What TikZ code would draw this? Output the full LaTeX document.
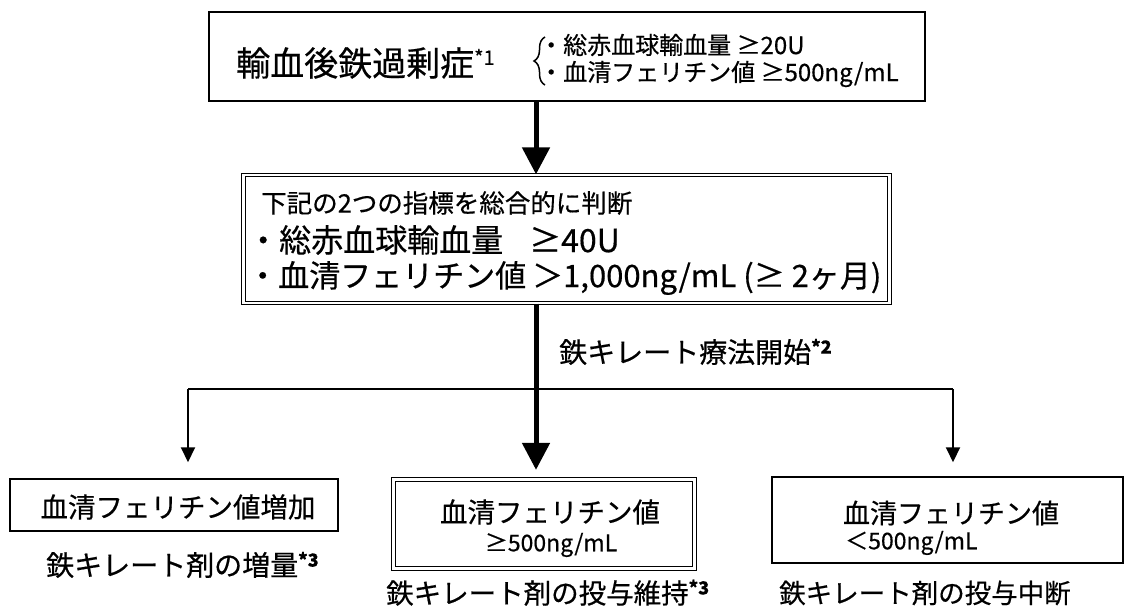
\documentclass[tikz,border=0pt]{standalone}
\usepackage{fontspec}
\setmainfont{Noto Sans CJK JP}[FakeBold=0.5]
\usetikzlibrary{arrows.meta,decorations.pathreplacing}
\newcommand\fsz[1]{\fontsize{#1}{#1}\selectfont}
\newcommand\supx[3]{\smash{\raisebox{#1}{\fsz{#2}#3}}}
\begin{document}
\begin{tikzpicture}[x=1pt,y=-1pt,
  box/.style={draw, line width=1.5pt, inner sep=0pt},
  dbox/.style={draw, double, line width=1.3pt, double distance=2.2pt, inner sep=0pt},
  txt/.style={inner sep=0pt, anchor=west},
  ctxt/.style={inner sep=0pt, anchor=center},
  thk/.style={line width=5pt, -{Triangle[width=27pt,length=27pt]}},
  thn/.style={line width=2pt},
  thna/.style={line width=2pt, -{Triangle[width=14pt,length=15pt]}}]
\fill[white] (0,0) rectangle (1124,608);
\useasboundingbox (0,0) rectangle (1124,608);

% boxes
\node[box, minimum width=716pt, minimum height=89pt] (top) at (567,56.5) {};
\node[dbox, minimum width=646pt, minimum height=128pt] (mid) at (566.5,239) {};
\node[box, minimum width=328pt, minimum height=52pt] (bl) at (174,505) {};
\node[dbox, minimum width=301pt, minimum height=89pt] (bm) at (544,524) {};
\node[box, minimum width=351pt, minimum height=86pt] (br) at (947.5,520) {};

% top box text
\node[txt] (title) at (236,63) {\fsz{34}輸血後鉄過剰症\supx{11pt}{20}{*1}};
\draw[line width=1.5pt, decorate, decoration={brace, amplitude=11pt}] (545,85) -- (545,37);
\node[txt] (ta) at (539,45) {\fsz{24}・総赤血球輸血量 ≥20U};
\node[txt] (tb) at (539,74) {\fsz{24}・血清フェリチン値 ≥500ng/mL};

% middle box text
\node[txt] (m1) at (261,203) {\fsz{25.5}下記の2つの指標を総合的に判断};
\node[txt] (m2) at (247,240) {\fsz{32}・総赤血球輸血量\hspace{26pt}≥40U};
\node[txt] (m3) at (247,278) {\fsz{31}・血清フェリチン値\hspace{6pt}＞1,000ng/mL (≥ 2ヶ月)};

% label
\node[txt] (lab) at (559,352) {\fsz{28}鉄キレート療法開始\supx{9pt}{18}{\bfseries *2}};

% bottom boxes text
\node[ctxt] (bl1) at (178,507) {\fsz{27.5}血清フェリチン値増加};
\node[ctxt] (bm1) at (550,512) {\fsz{27.5}血清フェリチン値};
\node[ctxt] (bm2) at (551,545) {\fsz{23}≥500ng/mL};
\node[ctxt] (br1) at (951,513) {\fsz{27}血清フェリチン値};
\node[txt] (br2) at (845,543) {\fsz{23}＜500ng/mL};

% bottom labels
\node[txt] (l1) at (46,565) {\fsz{28}鉄キレート剤の増量\supx{9pt}{18}{\bfseries *3}};
\node[txt] (l2) at (386,593) {\fsz{27.5}鉄キレート剤の投与維持\supx{9pt}{18}{\bfseries *3}};
\node[txt] (l3) at (779,593) {\fsz{26.5}鉄キレート剤の投与中断};

% connectors
\coordinate (j) at (536,389);
\coordinate (jl) at (188,389);
\coordinate (jr) at (953,389);
\draw[thk] (top.south -| j) -- (mid.north -| j);
\draw[thk, shorten >=9pt] (mid.south -| j) -- (bm.north -| j);
\draw[thn] (jl) -- (jr);
\draw[thna, shorten >=16pt] (jl) -- (bl.north -| jl);
\draw[thna, shorten >=14pt] (jr) -- (br.north -| jr);
\end{tikzpicture}
\end{document}
